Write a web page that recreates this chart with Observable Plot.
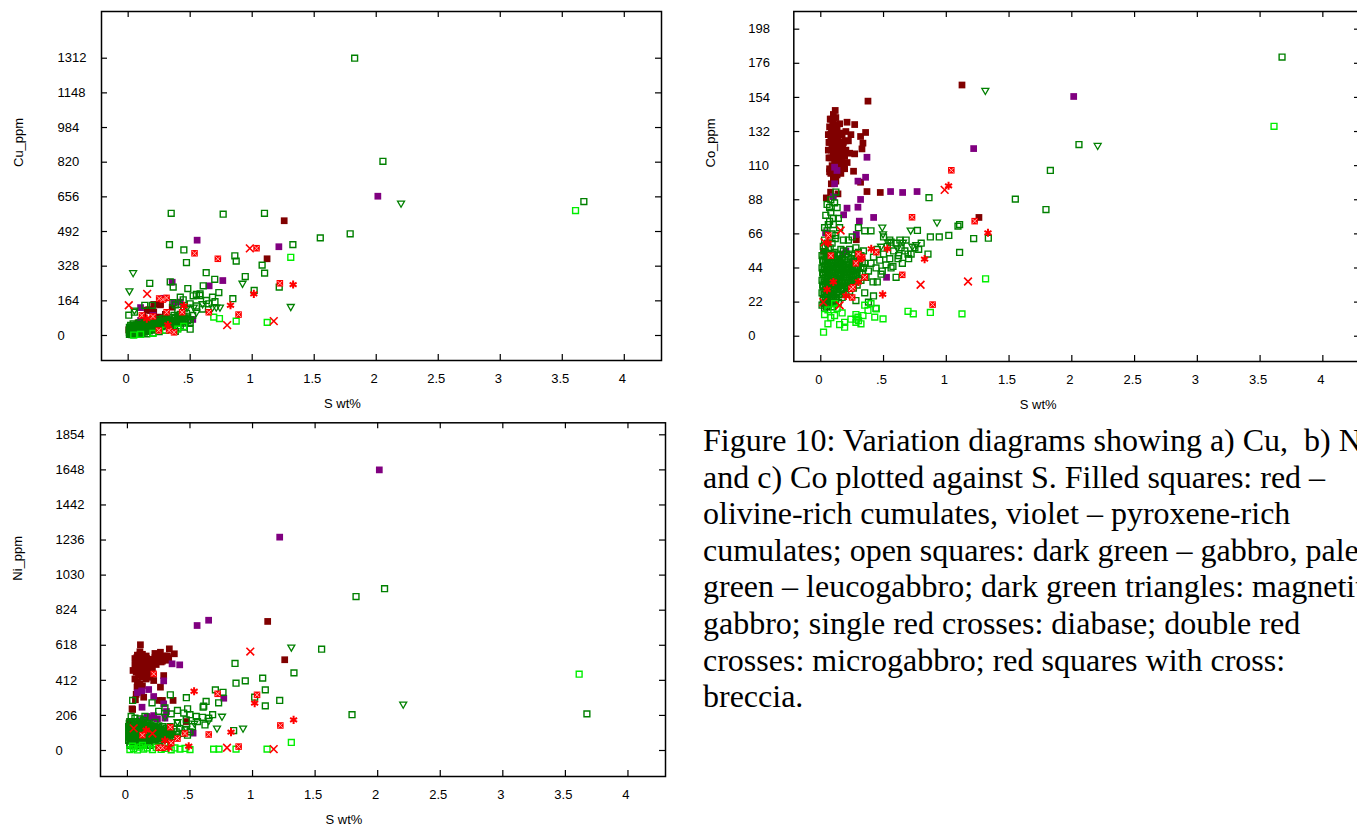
<!DOCTYPE html>
<html><head><meta charset="utf-8">
<script src="https://cdn.jsdelivr.net/npm/d3@7"></script>
<script src="https://cdn.jsdelivr.net/npm/@observablehq/plot@0.6"></script>
<style>
html,body{margin:0;padding:0;background:#fff;width:1357px;height:830px;overflow:hidden;}
.panel{position:absolute;}
.panel svg{max-width:none !important;}
#caption{position:absolute;left:703px;top:422px;font-family:"Liberation Serif","Times New Roman",serif;font-size:32px;line-height:36.6px;white-space:pre;color:#000;}
</style></head><body>
<div id="pa" class="panel" style="left:0;top:0;width:680px;height:415px"></div>
<div id="pb" class="panel" style="left:700px;top:0;width:670px;height:415px"></div>
<div id="pc" class="panel" style="left:0;top:415px;width:680px;height:415px"></div>
<div id="caption"></div>
<script>
// ---------- tick labels ----------
const xTicks = [0, 0.5, 1, 1.5, 2, 2.5, 3, 3.5, 4];
const cuTicks = [0, 164, 328, 492, 656, 820, 984, 1148, 1312];
const coTicks = [0, 22, 44, 66, 88, 110, 132, 154, 176, 198];
const niTicks = [0, 206, 412, 618, 824, 1030, 1236, 1442, 1648, 1854];
const captionLines = [
  "Figure 10: Variation diagrams showing a) Cu,  b) Ni",
  "and c) Co plotted against S. Filled squares: red –",
  "olivine-rich cumulates, violet – pyroxene-rich",
  "cumulates; open squares: dark green – gabbro, pale",
  "green – leucogabbro; dark green triangles: magnetite",
  "gabbro; single red crosses: diabase; double red",
  "crosses: microgabbro; red squares with cross:",
  "breccia."
];

// ---------- Cu panel: [S wt%, Cu ppm] ----------
const cuOlivine = [[1.258,543],[1.12,363],[0.26,145],[0.206,112],[0.153,120],[0.206,147],[0.166,122],[0.013,32],[0.013,18],[0.18,118],[0.26,150],[0.245,87],[0.355,134],[0.005,27],[0.3,100],[0.12,90],[0.22,80],[0.08,60],[0.28,60],[0.1,45],[0.14,70]];
const cuPyroxene = [[2.013,659],[0.556,451],[1.215,420],[0.355,252],[0.763,260],[0.653,235],[0.521,76],[0.1,132],[0.287,176],[0.368,155],[0.42,158],[0.1,71],[0.15,60],[0.2,95],[0.33,40]];
const cuGabbro = [[1.826,1312],[2.054,824],[1.79,481],[1.549,462],[1.328,430],[3.674,634],
  [0.347,578],[0.766,574],[1.099,578],[0.333,430],[0.449,405],[0.47,345],[0.86,377],[0.871,352],[1.08,333],[1.10,295],[0.629,297],[0.698,266],[0.944,279],[0.174,247],[0.363,229],[0.481,222],[0.605,235],[0.731,203],[1.016,213],[1.218,229],[0.844,174],[0.524,188],[0.55,195],[0.58,197],[0.68,181],[0.42,181],[0.444,169],[0.134,143],[0.194,143],[0.36,156],[0.005,96],[0.05,110],[0.339,254],[0.577,189],[0.631,166],[0.5,150],[0.55,140],[0.6,125],[0.65,150],[0.45,130],[0.4,120],[0.7,160],[0.38,145],
  [0.01,5],[0.01,15],[0.01,25],[0.01,38],[0.02,8],[0.02,20],[0.02,32],[0.02,48],[0.03,4],[0.03,14],[0.03,27],[0.03,40],[0.04,10],[0.04,22],[0.04,35],[0.04,55],[0.05,6],[0.05,18],[0.05,30],[0.05,44],[0.06,12],[0.06,25],[0.06,38],[0.07,8],[0.07,20],[0.07,33],[0.07,50],[0.08,15],[0.08,28],[0.08,42],[0.09,10],[0.09,22],[0.09,36],[0.09,60],[0.1,18],[0.1,30],[0.1,45],[0.11,12],[0.11,26],[0.11,40],[0.12,20],[0.12,34],[0.12,52],[0.13,16],[0.13,30],[0.13,46],[0.14,24],[0.14,38],[0.14,62],[0.15,20],[0.15,34],[0.15,50],[0.16,28],[0.16,44],[0.17,22],[0.17,38],[0.17,56],[0.18,32],[0.18,48],[0.19,26],[0.19,42],[0.19,70],[0.2,36],[0.2,54],[0.21,30],[0.21,46],[0.22,40],[0.22,60],[0.23,34],[0.23,52],[0.24,44],[0.24,75],[0.25,38],[0.25,56],[0.26,48],[0.26,66],[0.27,42],[0.27,60],[0.28,52],[0.28,80],[0.29,46],[0.29,64],[0.3,56],[0.3,72],[0.31,50],[0.31,90],[0.32,60],[0.33,55],[0.33,78],[0.34,66],[0.35,60],[0.35,85],[0.36,72],[0.37,65],[0.37,95],[0.38,80],[0.39,70],[0.4,88],[0.41,76],[0.42,100],[0.43,82],[0.44,70],[0.45,92],[0.46,80],[0.47,105],[0.48,88],[0.5,75],[0.52,95],
  [0.3,25],[0.35,30],[0.4,35],[0.45,40],[0.5,30],[0.38,20],[0.25,18],[0.2,12],[0.15,8],[0.42,45]];
const cuGabbroCore = [[0.015,10],[0.015,30],[0.025,15],[0.025,40],[0.035,8],[0.035,20],[0.035,33],[0.045,16],[0.045,28],[0.045,45],[0.055,12],[0.055,24],[0.055,36],[0.065,18],[0.065,30],[0.065,46],[0.075,14],[0.075,26],[0.075,40],[0.085,20],[0.085,34],[0.085,52],[0.095,16],[0.095,28],[0.095,44],[0.105,24],[0.105,38],[0.115,18],[0.115,32],[0.115,50],[0.125,26],[0.125,42],[0.135,22],[0.135,36],[0.135,56],[0.145,30],[0.145,46],[0.155,26],[0.155,42],[0.165,34],[0.165,52],[0.175,30],[0.175,46],[0.185,40],[0.185,58],[0.195,34],[0.195,50],[0.205,44],[0.215,38],[0.215,56],[0.225,48],[0.235,42],[0.235,62],[0.245,52],[0.255,46],[0.265,56],[0.275,50],[0.285,62],[0.295,56],[0.305,66],[0.315,60],[0.325,70],[0.34,50],[0.36,55],[0.38,62],[0.4,60],[0.42,66],[0.44,58],[0.46,65],[0.48,72],[0.5,62]];
const cuLeuco = [[3.607,591],[1.311,370],[0.69,87],[0.736,80],[0.871,68],[1.121,62],[0.448,43],[0.045,2],[0.3,25],[0.2,10],[0.4,30],[0.1,5]];
const cuMagnetite = [[2.2,626],[0.04,297],[0.01,211],[0.922,247],[1.311,137],[0.68,134],[0.71,134],[0.74,134],[0.476,134],[0.529,134],[0.05,120],[0.6,150],[0.55,110],[0.4,90],[0.3,60]];
const cuDiabase = [[0.005,143],[0.153,197],[0.798,49],[1.174,68],[0.981,412]];
const cuMicro = [[1.33,241],[0.825,143],[1.013,197],[0.32,50],[0.15,80],[0.45,140]];
const cuBreccia = [[0.535,389],[0.723,363],[1.035,413],[1.223,247],[0.89,99],[0.65,110],[0.25,175],[0.28,170],[0.31,178],[0.247,24],[0.33,24],[0.435,110],[0.31,110],[0.11,95],[0.2,90],[0.37,15]];

// ---------- Co panel: [S wt%, Co ppm] ----------
const coOlivine = [[1.125,162],[1.26,76.6],[0.376,151.6],[0.474,92.7],[0.368,93.3],[0.283,62.2],[0.022,54.8],[0.044,89.2],[0.078,92.9],[0.137,91.8],[0.084,98.3],[0.07,106],[0.317,99.3],[0.261,106.4],[0.27,117.6],[0.328,120.8],[0.336,124.5],[0.317,128.8],[0.357,131.4],[0.27,136.5],[0.209,138],[0.115,145.6],
  [0.06,120],[0.06,130],[0.07,125],[0.07,135],[0.08,115],[0.08,128],[0.08,140],[0.09,110],[0.09,122],[0.09,133],[0.1,118],[0.1,127],[0.1,138],[0.1,143],[0.11,112],[0.11,124],[0.11,131],[0.12,108],[0.12,119],[0.12,136],[0.12,141],[0.13,115],[0.13,126],[0.13,133],[0.14,110],[0.14,121],[0.14,129],[0.15,117],[0.15,125],[0.15,137],[0.16,112],[0.16,122],[0.17,118],[0.17,130],[0.18,110],[0.18,125],[0.19,116],[0.2,120],[0.2,132],[0.21,112],[0.22,126],[0.23,118],[0.24,130],[0.1,102],[0.13,104],[0.07,108],[0.16,105],[0.19,108]];
const coOlivineCore = [[0.065,115],[0.065,125],[0.075,130],[0.075,140],[0.085,120],[0.085,133],[0.095,115],[0.095,127],[0.095,138],[0.105,122],[0.105,132],[0.115,117],[0.115,136],[0.125,112],[0.125,125],[0.135,119],[0.135,130],[0.145,114],[0.145,124],[0.155,120],[0.155,131],[0.165,116],[0.175,124],[0.185,118],[0.195,126],[0.08,105],[0.12,100],[0.15,108]];
const coPyroxene = [[2.015,154.6],[1.218,121],[0.556,93.3],[0.652,92.7],[0.767,93.3],[0.317,88.2],[0.296,83.2],[0.209,82.6],[0.182,78.3],[0.307,74.2],[0.421,76.6],[0.283,65.6],[0.038,66.7],[0.368,115.4],[0.357,102.5],[0.296,100],[0.11,109],[0.11,98.3],[0.129,106.9],[0.524,38],[0.177,53],[0.15,50],[0.1,90],[0.2,55],[0.25,48],[0.12,46]];
const coGabbro = [[3.675,180],[2.057,123.6],[1.829,106.9],[1.794,81.7],[1.55,88.4],[1.335,63.2],[1.218,63],[1.106,72],[1.093,71],[1.02,65],[0.944,64],[0.873,64],[0.862,89.3],[1.106,54],[0.854,53],
  [0.01,20],[0.01,28],[0.01,36],[0.01,44],[0.01,52],[0.02,24],[0.02,32],[0.02,40],[0.02,48],[0.02,58],[0.03,18],[0.03,27],[0.03,35],[0.03,43],[0.03,62],[0.04,22],[0.04,30],[0.04,38],[0.04,46],[0.04,54],[0.05,26],[0.05,34],[0.05,42],[0.05,50],[0.05,68],[0.06,20],[0.06,29],[0.06,37],[0.06,45],[0.06,56],[0.07,24],[0.07,33],[0.07,41],[0.07,49],[0.07,74],[0.08,28],[0.08,36],[0.08,44],[0.08,52],[0.08,80],[0.09,22],[0.09,31],[0.09,39],[0.09,47],[0.09,60],[0.1,26],[0.1,35],[0.1,43],[0.1,51],[0.1,72],[0.11,30],[0.11,38],[0.11,46],[0.11,54],[0.11,86],[0.12,24],[0.12,33],[0.12,41],[0.12,49],[0.12,65],[0.13,28],[0.13,37],[0.13,45],[0.13,53],[0.14,22],[0.14,32],[0.14,40],[0.14,48],[0.14,76],[0.15,27],[0.15,35],[0.15,44],[0.15,52],[0.16,30],[0.16,39],[0.16,47],[0.16,56],[0.17,25],[0.17,34],[0.17,42],[0.17,50],[0.18,29],[0.18,38],[0.18,46],[0.18,55],[0.19,33],[0.19,41],[0.19,49],[0.2,27],[0.2,36],[0.2,44],[0.2,53],[0.21,31],[0.21,40],[0.21,48],[0.22,35],[0.22,43],[0.22,51],[0.23,29],[0.23,38],[0.23,46],[0.23,56],[0.24,33],[0.24,42],[0.24,50],[0.25,37],[0.25,45],[0.25,53],[0.26,31],[0.26,40],[0.26,48],[0.27,35],[0.27,44],[0.27,52],[0.28,39],[0.28,47],[0.28,57],[0.29,33],[0.29,42],[0.29,50],[0.3,37],[0.3,45],[0.3,54],[0.31,41],[0.31,49],[0.32,36],[0.32,44],[0.32,52],[0.33,40],[0.33,48],[0.34,44],[0.34,55],[0.35,47],[0.36,38],
  [0.38,42],[0.4,47],[0.42,51],[0.44,44],[0.45,56],[0.47,49],[0.48,40],[0.5,53],[0.52,46],[0.53,58],[0.55,50],[0.56,44],[0.58,55],[0.6,60],[0.62,52],[0.64,57],[0.65,47],[0.67,55],[0.68,62],[0.7,50],[0.72,53],[0.75,57],[0.78,56],[0.8,60],[0.6,38],[0.45,35],[0.42,26],[0.38,22],[0.35,28],[0.5,64],[0.55,62],[0.4,68],[0.3,70],[0.25,64],[0.22,62],
  [0.05,85],[0.08,88],[0.13,83],[0.1,76],[0.15,70],[0.12,93],[0.18,62],[0.35,68],[0.56,60.6],[0.63,62],[0.77,68.2],[0.615,50],[0.695,53],[0.575,45],[0.49,42],[0.416,35],[0.28,23],[0.44,18]];
const coGabbroCore = [[0.015,33],[0.015,41],[0.015,49],[0.025,21],[0.025,29],[0.025,37],[0.025,45],[0.025,53],[0.035,25],[0.035,33],[0.035,41],[0.035,49],[0.035,57],[0.045,19],[0.045,27],[0.045,35],[0.045,43],[0.045,51],[0.055,23],[0.055,31],[0.055,39],[0.055,47],[0.055,60],[0.065,27],[0.065,35],[0.065,43],[0.065,51],[0.075,21],[0.075,29],[0.075,37],[0.075,45],[0.075,57],[0.085,25],[0.085,33],[0.085,41],[0.085,49],[0.095,19],[0.095,27],[0.095,35],[0.095,43],[0.095,53],[0.105,31],[0.105,39],[0.105,47],[0.115,23],[0.115,35],[0.115,43],[0.115,63],[0.125,29],[0.125,37],[0.125,45],[0.135,33],[0.135,41],[0.135,49],[0.145,27],[0.145,36],[0.145,44],[0.155,31],[0.155,40],[0.155,48],[0.165,35],[0.165,43],[0.175,30],[0.175,46],[0.185,34],[0.185,42],[0.195,38],[0.195,46],[0.205,32],[0.205,41],[0.215,36],[0.215,44],[0.225,40],[0.235,34],[0.245,38],[0.255,42],[0.265,36],[0.275,40],[0.285,44],[0.03,70],[0.06,72],[0.09,66],[0.04,78],[0.07,83]];
const coLeuco = [[3.611,135.4],[1.313,37],[1.125,14.4],[0.873,15.3],[0.737,14.4],[0.695,16.1],[0.022,2.6],[0.057,8],[0.11,13.3],[0.15,7.5],[0.19,5.8],[0.296,12.3],[0.28,9],[0.336,13.3],[0.376,16.6],[0.43,12.3],[0.496,11.2],[0.442,17.7],[0.4,21],[0.11,21],[0.057,17],[0.19,9],[0.28,14],[0.3,10],[0.08,12],[0.13,18],[0.17,15],[0.24,11],[0.32,8],[0.35,20],[0.03,14],[0.283,11]];
const coMagnetite = [[2.206,123],[1.311,158.5],[0.926,73.5],[0.49,70.3],[0.496,66],[0.716,68.4],[0.761,59],[0.535,60.6],[0.48,58],[0.655,60.6],[0.61,57],[0.73,58]];
const coDiabase = [[0.987,94.4],[1.173,35.3],[0.795,33.2],[0.158,68.2],[0.03,60.6],[0.02,22],[0.15,20]];
const coMicro = [[1.018,97],[1.332,66.7],[0.827,49.7],[0.493,27],[0.402,56.4],[0.53,56.4],[0.323,50.3],[0.06,60],[0.05,30],[0.1,35],[0.3,35],[0.2,26]];
const coBreccia = [[1.04,107],[1.226,74.2],[0.727,76.7],[0.649,39.6],[0.891,20.4],[0.442,54.2],[0.315,49.9],[0.243,30.6],[0.257,31.6],[0.33,51],[0.28,47],[0.3,53],[0.08,52],[0.25,25],[0.35,38],[0.06,65]];

// ---------- Ni panel: [S wt%, Ni ppm] ----------
const niOlivine = [[1.121,758],[1.257,533],[0.104,621],[0.335,597],[0.375,568],[0.264,577],[0.22,570],[0.045,470],[0.077,372],[0.13,313],[0.064,298],[0.21,411],[0.264,372],[0.25,294],[0.365,294],[0.28,294],[0.037,245],[0.019,170],[0.471,170],[0.042,241],[0.29,440],
  [0.06,500],[0.06,540],[0.07,460],[0.07,520],[0.08,480],[0.08,560],[0.09,440],[0.09,505],[0.09,545],[0.1,470],[0.1,525],[0.1,580],[0.11,455],[0.11,495],[0.11,550],[0.12,430],[0.12,480],[0.12,520],[0.12,565],[0.13,460],[0.13,505],[0.13,540],[0.14,440],[0.14,490],[0.14,530],[0.15,470],[0.15,515],[0.15,555],[0.16,450],[0.16,500],[0.17,480],[0.17,535],[0.18,460],[0.18,515],[0.19,495],[0.2,470],[0.2,530],[0.21,510],[0.22,545],[0.23,505],[0.24,530],[0.25,550],[0.27,520],[0.29,540],[0.31,530],[0.33,545],[0.3,555],[0.06,420],[0.08,400],[0.1,390],[0.12,380],[0.09,350],[0.15,420],[0.18,430],[0.07,330]];
const niOlivineCore = [[0.065,480],[0.065,520],[0.075,500],[0.075,545],[0.085,460],[0.085,520],[0.095,480],[0.095,560],[0.105,450],[0.105,500],[0.115,475],[0.115,530],[0.125,455],[0.125,500],[0.135,480],[0.135,525],[0.145,465],[0.145,510],[0.155,490],[0.155,540],[0.165,470],[0.175,505],[0.185,485],[0.195,520],[0.26,540],[0.28,525],[0.32,555]];
const niPyroxene = [[2.013,1648],[1.217,1253],[0.557,734],[0.649,765],[0.357,509],[0.418,503],[0.29,409],[0.17,358],[0.21,317],[0.114,350],[0.08,340],[0.29,274],[0.312,229],[0.77,307],[0.525,102],[0.13,186],[0.17,190],[0.2,192],[0.24,186],[0.157,200],[0.21,205],[0.117,254],[0.3,190],[0.1,175]];
const niGabbro = [[2.055,950],[1.827,904],[1.795,210],[3.672,215],[1.552,595],[1.331,456],[0.86,511],[1.081,425],[0.942,409],[0.868,395],[1.102,356],[1.102,262],[1.217,294],[0.703,356],[0.764,342],[0.729,280],[0.471,310],[0.61,260],[0.629,288],[0.605,254],[0.849,117],[0.681,210],[0.042,294],[0.197,280],[0.343,327],[1.017,313],[0.481,245],[0.4,235],[0.45,220],[0.5,210],[0.55,200],[0.35,215],[0.6,195],[0.65,190],[0.3,250],[0.25,230],[0.56,170],[0.62,150],[0.4,160],[0.47,180],
  [0.01,60],[0.01,100],[0.01,140],[0.02,40],[0.02,80],[0.02,120],[0.02,170],[0.03,55],[0.03,95],[0.03,135],[0.04,70],[0.04,110],[0.04,155],[0.05,45],[0.05,85],[0.05,125],[0.06,65],[0.06,105],[0.06,145],[0.07,50],[0.07,90],[0.07,130],[0.08,75],[0.08,115],[0.08,165],[0.09,60],[0.09,100],[0.09,140],[0.1,45],[0.1,85],[0.1,125],[0.11,70],[0.11,110],[0.11,150],[0.12,55],[0.12,95],[0.12,135],[0.13,80],[0.13,120],[0.13,175],[0.14,65],[0.14,105],[0.14,145],[0.15,50],[0.15,90],[0.15,130],[0.16,75],[0.16,115],[0.16,160],[0.17,60],[0.17,100],[0.17,140],[0.18,85],[0.18,125],[0.19,70],[0.19,110],[0.19,150],[0.2,55],[0.2,95],[0.2,135],[0.21,80],[0.21,120],[0.22,65],[0.22,105],[0.22,165],[0.23,90],[0.23,130],[0.24,75],[0.24,115],[0.25,60],[0.25,100],[0.25,145],[0.26,85],[0.26,125],[0.27,70],[0.27,110],[0.28,95],[0.28,140],[0.29,80],[0.29,120],[0.3,65],[0.3,105],[0.31,90],[0.31,130],[0.32,75],[0.32,115],[0.33,100],[0.34,85],[0.34,140],[0.35,110],[0.36,95],[0.37,125],[0.38,80],[0.39,110],[0.4,95],[0.42,130],[0.44,100],[0.46,120],[0.48,90],[0.5,110],[0.52,140],[0.03,200],[0.06,190],[0.1,185],[0.14,200]];
const niGabbroCore = [[0.015,80],[0.015,120],[0.015,160],[0.025,60],[0.025,100],[0.025,140],[0.035,75],[0.035,115],[0.035,160],[0.045,50],[0.045,90],[0.045,130],[0.055,65],[0.055,105],[0.055,145],[0.065,80],[0.065,120],[0.065,170],[0.075,60],[0.075,100],[0.075,140],[0.085,50],[0.085,90],[0.085,130],[0.095,75],[0.095,115],[0.095,160],[0.105,60],[0.105,100],[0.105,140],[0.115,85],[0.115,125],[0.125,70],[0.125,110],[0.125,155],[0.135,60],[0.135,100],[0.135,140],[0.145,85],[0.145,125],[0.155,70],[0.155,110],[0.155,150],[0.165,95],[0.165,135],[0.175,80],[0.175,120],[0.185,65],[0.185,105],[0.185,145],[0.195,90],[0.195,130],[0.205,75],[0.205,115],[0.215,100],[0.215,140],[0.225,85],[0.225,125],[0.235,70],[0.235,110],[0.245,95],[0.245,135],[0.255,80],[0.255,120],[0.265,105],[0.275,90],[0.285,120],[0.295,100],[0.305,85],[0.315,110],[0.325,95],[0.335,120],[0.345,100],[0.02,30],[0.06,35],[0.1,30],[0.14,35],[0.18,30],[0.22,40],[0.26,35],[0.3,40]];
const niLeuco = [[3.61,448],[1.31,47],[0.689,8],[0.732,8],[0.868,8],[1.116,8],[0.02,5],[0.05,12],[0.08,3],[0.1,20],[0.13,8],[0.16,15],[0.2,5],[0.23,18],[0.27,6],[0.3,12],[0.35,4],[0.38,15],[0.42,8],[0.46,12],[0.5,5],[0.12,30],[0.04,25]];
const niMagnetite = [[2.204,272],[1.31,607],[0.756,201],[0.716,131],[0.924,131],[0.65,176],[0.535,160],[0.47,130],[0.3,200],[0.4,170]];
const niDiabase = [[0.982,581],[0.796,16],[1.169,8],[0.05,130],[0.2,100]];
const niMicro = [[0.533,348],[1.017,278],[1.328,180],[0.828,108],[0.49,25],[0.33,16],[0.15,120],[0.3,60]];
const niBreccia = [[0.721,333],[1.036,327],[0.65,94],[1.222,147],[0.889,23],[0.25,16],[0.343,137],[0.46,100],[0.21,450],[0.28,16],[0.4,70],[0.12,90],[0.35,45]];

// ---------- styling ----------
const GREEN = "#008000", LIME = "#00ee00", MAROON = "#800000", PURPLE = "#800080", RED = "#ff0000";
const FONT = "'Liberation Sans', Arial, sans-serif";
const fmtX = d => d === 0.5 ? ".5" : String(d);
const pts = arr => arr.map(([s, v]) => ({s, v}));

function groupMarks(g) {
  return [
    Plot.dot(pts(g.olivine), {x: "s", y: "v", symbol: "square", fill: MAROON, r: 3.8}),
    Plot.dot(pts(g.pyroxene), {x: "s", y: "v", symbol: "square", fill: PURPLE, r: 3.8}),
    Plot.dot(pts(g.gabbro), {x: "s", y: "v", symbol: "square", fill: "none", stroke: GREEN, strokeWidth: 1.4, r: 3.3}),
    Plot.dot(pts(g.leuco), {x: "s", y: "v", symbol: "square", fill: "none", stroke: LIME, strokeWidth: 1.4, r: 3.3}),
    Plot.dot(pts(g.magnetite), {x: "s", y: "v", symbol: "triangle", rotate: 180, fill: "none", stroke: GREEN, strokeWidth: 1.3, r: 2.6}),
    Plot.dot(pts(g.breccia), {x: "s", y: "v", symbol: "square", fill: RED, r: 3.7}),
    Plot.dot(pts(g.breccia), {x: "s", y: "v", symbol: "times", stroke: "#ffb4b4", strokeWidth: 1, r: 2.2}),
    Plot.dot(pts(g.micro), {x: "s", y: "v", symbol: "asterisk", stroke: RED, strokeWidth: 2, r: 3.8}),
    Plot.dot(pts(g.diabase), {x: "s", y: "v", symbol: "times", stroke: RED, strokeWidth: 1.6, r: 3.6})
  ];
}

function panel({width, height, ml, mr, mt, mb, yDomain, yTicks, yLabel, ypad, groups}) {
  const iw = width - ml - mr, ih = height - mt - mb, T = 6;
  const tk = {stroke: "#000", strokeWidth: 1.2};
  return Plot.plot({
    width, height, marginLeft: ml, marginRight: mr, marginTop: mt, marginBottom: mb,
    x: {domain: [-0.215, 4.3]},
    y: {domain: yDomain},
    style: {fontFamily: FONT, fontSize: "13px", background: "transparent", color: "#000", maxWidth: "none"},
    marks: [
      ...groupMarks(groups),
      Plot.tickY(yTicks, {y: d => d, insetRight: iw - T, ...tk}),
      Plot.tickY(yTicks, {y: d => d, insetLeft: iw - T, ...tk}),
      Plot.tickX(xTicks, {x: d => d, insetBottom: ih - T, ...tk}),
      Plot.tickX(xTicks, {x: d => d, insetTop: ih - T, ...tk}),
      Plot.axisY(yTicks, {anchor: "left", tickSize: 0, tickPadding: ypad, textAnchor: "start", tickFormat: d => String(d), label: null, fontSize: 13}),
      Plot.axisX(xTicks, {anchor: "bottom", tickSize: 0, tickPadding: 13, tickFormat: fmtX, label: null, dx: -2, fontSize: 13}),
      Plot.text([yLabel], {frameAnchor: "left", dx: -83, dy: -19, rotate: -90, text: d => d, fontSize: 13}),
      Plot.text(["S wt%"], {frameAnchor: "bottom", dx: -39, dy: 47, text: d => d, fontSize: 13}),
      Plot.frame({stroke: "#000", strokeWidth: 1.5})
    ]
  });
}

document.getElementById("pa").append(panel({
  width: 680, height: 415, ml: 101, mr: 19, mt: 11, mb: 55,
  yDomain: [-118.3, 1533], yTicks: cuTicks, yLabel: "Cu_ppm", ypad: 44,
  groups: {olivine: cuOlivine, pyroxene: cuPyroxene, gabbro: cuGabbro.concat(cuGabbroCore), leuco: cuLeuco, magnetite: cuMagnetite, diabase: cuDiabase, micro: cuMicro, breccia: cuBreccia}
}));
document.getElementById("pb").append(panel({
  width: 670, height: 415, ml: 93.3, mr: 10, mt: 11, mb: 54,
  yDomain: [-16.3, 209.4], yTicks: coTicks, yLabel: "Co_ppm", ypad: 45.5,
  groups: {olivine: coOlivine.concat(coOlivineCore), pyroxene: coPyroxene, gabbro: coGabbro.concat(coGabbroCore), leuco: coLeuco, magnetite: coMagnetite, diabase: coDiabase, micro: coMicro, breccia: coBreccia}
}));
document.getElementById("pc").append(panel({
  width: 680, height: 415, ml: 100, mr: 15, mt: 7.3, mb: 54,
  yDomain: [-152.7, 1924.5], yTicks: niTicks, yLabel: "Ni_ppm", ypad: 45,
  groups: {olivine: niOlivine.concat(niOlivineCore), pyroxene: niPyroxene, gabbro: niGabbro.concat(niGabbroCore), leuco: niLeuco, magnetite: niMagnetite, diabase: niDiabase, micro: niMicro, breccia: niBreccia}
}));
document.getElementById("caption").textContent = captionLines.join("\n");
</script>
</body></html>
